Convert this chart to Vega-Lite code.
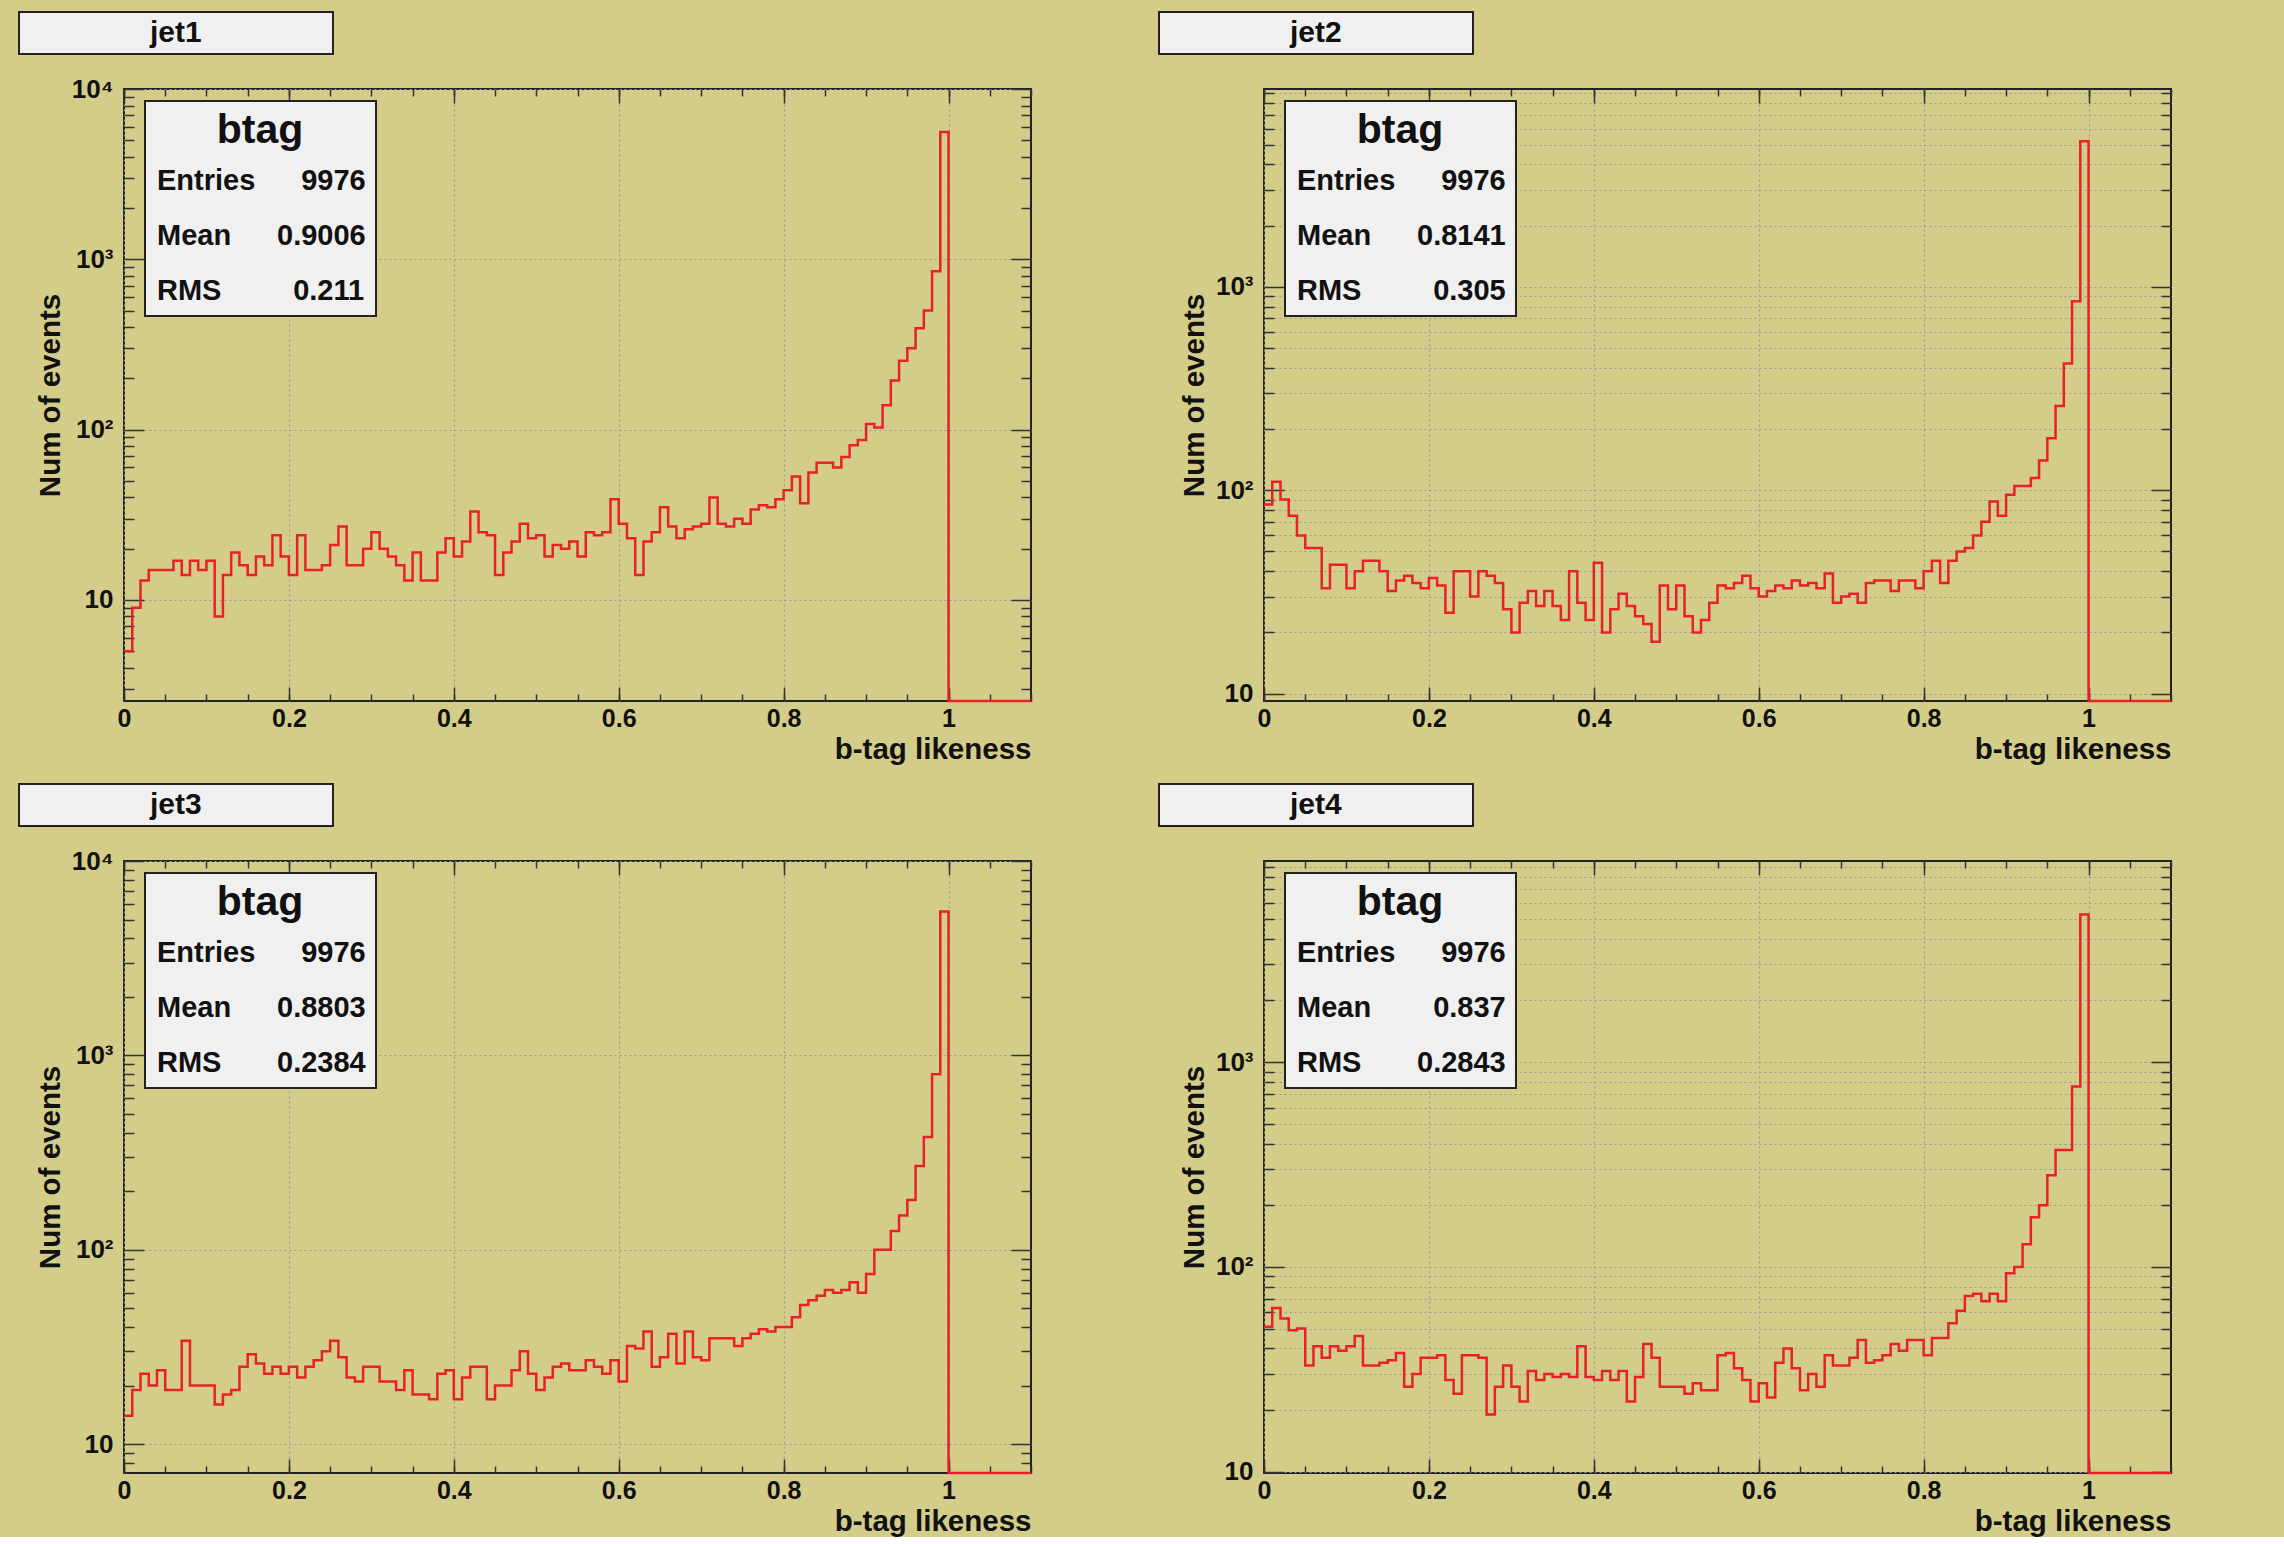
{
  "$schema": "https://vega.github.io/schema/vega-lite/v6.json",
  "background": "#d4cd89",
  "padding": {"left": 17, "top": 10, "right": 107, "bottom": 0},
  "columns": 2,
  "spacing": {"row": 17, "column": 120},
  "datasets": {
    "jet1": [
      {"x":0,"n":5},{"x":0.01,"n":9},{"x":0.02,"n":13},{"x":0.03,"n":15},{"x":0.04,"n":15},{"x":0.05,"n":15},{"x":0.06,"n":17},{"x":0.07,"n":14},{"x":0.08,"n":17},{"x":0.09,"n":15},
      {"x":0.1,"n":17},{"x":0.11,"n":8},{"x":0.12,"n":14},{"x":0.13,"n":19},{"x":0.14,"n":16},{"x":0.15,"n":14},{"x":0.16,"n":18},{"x":0.17,"n":16},{"x":0.18,"n":24},{"x":0.19,"n":18},
      {"x":0.2,"n":14},{"x":0.21,"n":24},{"x":0.22,"n":15},{"x":0.23,"n":15},{"x":0.24,"n":16},{"x":0.25,"n":21},{"x":0.26,"n":27},{"x":0.27,"n":16},{"x":0.28,"n":16},{"x":0.29,"n":20},
      {"x":0.3,"n":25},{"x":0.31,"n":20},{"x":0.32,"n":18},{"x":0.33,"n":16},{"x":0.34,"n":13},{"x":0.35,"n":19},{"x":0.36,"n":13},{"x":0.37,"n":13},{"x":0.38,"n":19},{"x":0.39,"n":23},
      {"x":0.4,"n":18},{"x":0.41,"n":22},{"x":0.42,"n":33},{"x":0.43,"n":25},{"x":0.44,"n":24},{"x":0.45,"n":14},{"x":0.46,"n":19},{"x":0.47,"n":22},{"x":0.48,"n":28},{"x":0.49,"n":23},
      {"x":0.5,"n":24},{"x":0.51,"n":18},{"x":0.52,"n":21},{"x":0.53,"n":20},{"x":0.54,"n":22},{"x":0.55,"n":18},{"x":0.56,"n":25},{"x":0.57,"n":24},{"x":0.58,"n":25},{"x":0.59,"n":39},
      {"x":0.6,"n":28},{"x":0.61,"n":23},{"x":0.62,"n":14},{"x":0.63,"n":22},{"x":0.64,"n":25},{"x":0.65,"n":35},{"x":0.66,"n":27},{"x":0.67,"n":23},{"x":0.68,"n":26},{"x":0.69,"n":27},
      {"x":0.7,"n":28},{"x":0.71,"n":40},{"x":0.72,"n":28},{"x":0.73,"n":27},{"x":0.74,"n":30},{"x":0.75,"n":28},{"x":0.76,"n":34},{"x":0.77,"n":36},{"x":0.78,"n":35},{"x":0.79,"n":39},
      {"x":0.8,"n":44},{"x":0.81,"n":53},{"x":0.82,"n":37},{"x":0.83,"n":56},{"x":0.84,"n":64},{"x":0.85,"n":64},{"x":0.86,"n":60},{"x":0.87,"n":69},{"x":0.88,"n":81},{"x":0.89,"n":87},
      {"x":0.9,"n":108},{"x":0.91,"n":103},{"x":0.92,"n":139},{"x":0.93,"n":194},{"x":0.94,"n":254},{"x":0.95,"n":300},{"x":0.96,"n":394},{"x":0.97,"n":500},{"x":0.98,"n":850},{"x":0.99,"n":5600},
      {"x":1,"n":0},{"x":1.01,"n":0},{"x":1.02,"n":0},{"x":1.03,"n":0},{"x":1.04,"n":0},{"x":1.05,"n":0},{"x":1.06,"n":0},{"x":1.07,"n":0},{"x":1.08,"n":0},{"x":1.09,"n":0},{"x":1.1,"n":0}
    ],
    "jet2": [
      {"x":0,"n":85},{"x":0.01,"n":110},{"x":0.02,"n":90},{"x":0.03,"n":75},{"x":0.04,"n":60},{"x":0.05,"n":52},{"x":0.06,"n":52},{"x":0.07,"n":33},{"x":0.08,"n":43},{"x":0.09,"n":43},
      {"x":0.1,"n":33},{"x":0.11,"n":40},{"x":0.12,"n":45},{"x":0.13,"n":45},{"x":0.14,"n":40},{"x":0.15,"n":32},{"x":0.16,"n":36},{"x":0.17,"n":38},{"x":0.18,"n":35},{"x":0.19,"n":33},
      {"x":0.2,"n":37},{"x":0.21,"n":34},{"x":0.22,"n":25},{"x":0.23,"n":40},{"x":0.24,"n":40},{"x":0.25,"n":30},{"x":0.26,"n":40},{"x":0.27,"n":38},{"x":0.28,"n":35},{"x":0.29,"n":26},
      {"x":0.3,"n":20},{"x":0.31,"n":28},{"x":0.32,"n":32},{"x":0.33,"n":27},{"x":0.34,"n":32},{"x":0.35,"n":27},{"x":0.36,"n":23},{"x":0.37,"n":40},{"x":0.38,"n":28},{"x":0.39,"n":23},
      {"x":0.4,"n":44},{"x":0.41,"n":20},{"x":0.42,"n":26},{"x":0.43,"n":31},{"x":0.44,"n":27},{"x":0.45,"n":24},{"x":0.46,"n":22},{"x":0.47,"n":18},{"x":0.48,"n":34},{"x":0.49,"n":26},
      {"x":0.5,"n":34},{"x":0.51,"n":24},{"x":0.52,"n":20},{"x":0.53,"n":23},{"x":0.54,"n":28},{"x":0.55,"n":34},{"x":0.56,"n":33},{"x":0.57,"n":35},{"x":0.58,"n":38},{"x":0.59,"n":33},
      {"x":0.6,"n":30},{"x":0.61,"n":32},{"x":0.62,"n":34},{"x":0.63,"n":33},{"x":0.64,"n":36},{"x":0.65,"n":34},{"x":0.66,"n":35},{"x":0.67,"n":33},{"x":0.68,"n":39},{"x":0.69,"n":28},
      {"x":0.7,"n":30},{"x":0.71,"n":31},{"x":0.72,"n":28},{"x":0.73,"n":35},{"x":0.74,"n":36},{"x":0.75,"n":36},{"x":0.76,"n":32},{"x":0.77,"n":36},{"x":0.78,"n":36},{"x":0.79,"n":33},
      {"x":0.8,"n":40},{"x":0.81,"n":45},{"x":0.82,"n":35},{"x":0.83,"n":45},{"x":0.84,"n":50},{"x":0.85,"n":52},{"x":0.86,"n":60},{"x":0.87,"n":70},{"x":0.88,"n":88},{"x":0.89,"n":75},
      {"x":0.9,"n":95},{"x":0.91,"n":105},{"x":0.92,"n":105},{"x":0.93,"n":115},{"x":0.94,"n":140},{"x":0.95,"n":180},{"x":0.96,"n":260},{"x":0.97,"n":420},{"x":0.98,"n":850},{"x":0.99,"n":5200},
      {"x":1,"n":0},{"x":1.01,"n":0},{"x":1.02,"n":0},{"x":1.03,"n":0},{"x":1.04,"n":0},{"x":1.05,"n":0},{"x":1.06,"n":0},{"x":1.07,"n":0},{"x":1.08,"n":0},{"x":1.09,"n":0},{"x":1.1,"n":0}
    ],
    "jet3": [
      {"x":0,"n":14},{"x":0.01,"n":19},{"x":0.02,"n":23},{"x":0.03,"n":20},{"x":0.04,"n":24},{"x":0.05,"n":19},{"x":0.06,"n":19},{"x":0.07,"n":34},{"x":0.08,"n":20},{"x":0.09,"n":20},
      {"x":0.1,"n":20},{"x":0.11,"n":16},{"x":0.12,"n":18},{"x":0.13,"n":19},{"x":0.14,"n":25},{"x":0.15,"n":29},{"x":0.16,"n":26},{"x":0.17,"n":23},{"x":0.18,"n":25},{"x":0.19,"n":23},
      {"x":0.2,"n":25},{"x":0.21,"n":22},{"x":0.22,"n":25},{"x":0.23,"n":27},{"x":0.24,"n":30},{"x":0.25,"n":34},{"x":0.26,"n":28},{"x":0.27,"n":22},{"x":0.28,"n":21},{"x":0.29,"n":25},
      {"x":0.3,"n":25},{"x":0.31,"n":21},{"x":0.32,"n":21},{"x":0.33,"n":19},{"x":0.34,"n":24},{"x":0.35,"n":18},{"x":0.36,"n":18},{"x":0.37,"n":17},{"x":0.38,"n":23},{"x":0.39,"n":24},
      {"x":0.4,"n":17},{"x":0.41,"n":22},{"x":0.42,"n":25},{"x":0.43,"n":25},{"x":0.44,"n":17},{"x":0.45,"n":20},{"x":0.46,"n":20},{"x":0.47,"n":24},{"x":0.48,"n":30},{"x":0.49,"n":23},
      {"x":0.5,"n":19},{"x":0.51,"n":22},{"x":0.52,"n":25},{"x":0.53,"n":26},{"x":0.54,"n":24},{"x":0.55,"n":24},{"x":0.56,"n":27},{"x":0.57,"n":25},{"x":0.58,"n":23},{"x":0.59,"n":27},
      {"x":0.6,"n":21},{"x":0.61,"n":32},{"x":0.62,"n":31},{"x":0.63,"n":38},{"x":0.64,"n":25},{"x":0.65,"n":28},{"x":0.66,"n":37},{"x":0.67,"n":26},{"x":0.68,"n":38},{"x":0.69,"n":28},
      {"x":0.7,"n":27},{"x":0.71,"n":35},{"x":0.72,"n":35},{"x":0.73,"n":35},{"x":0.74,"n":32},{"x":0.75,"n":35},{"x":0.76,"n":37},{"x":0.77,"n":39},{"x":0.78,"n":38},{"x":0.79,"n":40},
      {"x":0.8,"n":40},{"x":0.81,"n":45},{"x":0.82,"n":52},{"x":0.83,"n":55},{"x":0.84,"n":58},{"x":0.85,"n":62},{"x":0.86,"n":60},{"x":0.87,"n":62},{"x":0.88,"n":68},{"x":0.89,"n":60},
      {"x":0.9,"n":75},{"x":0.91,"n":100},{"x":0.92,"n":100},{"x":0.93,"n":125},{"x":0.94,"n":150},{"x":0.95,"n":180},{"x":0.96,"n":270},{"x":0.97,"n":380},{"x":0.98,"n":800},{"x":0.99,"n":5500},
      {"x":1,"n":0},{"x":1.01,"n":0},{"x":1.02,"n":0},{"x":1.03,"n":0},{"x":1.04,"n":0},{"x":1.05,"n":0},{"x":1.06,"n":0},{"x":1.07,"n":0},{"x":1.08,"n":0},{"x":1.09,"n":0},{"x":1.1,"n":0}
    ],
    "jet4": [
      {"x":0,"n":51},{"x":0.01,"n":63},{"x":0.02,"n":56},{"x":0.03,"n":49},{"x":0.04,"n":50},{"x":0.05,"n":33},{"x":0.06,"n":41},{"x":0.07,"n":36},{"x":0.08,"n":41},{"x":0.09,"n":39},
      {"x":0.1,"n":41},{"x":0.11,"n":46},{"x":0.12,"n":33},{"x":0.13,"n":33},{"x":0.14,"n":34},{"x":0.15,"n":35},{"x":0.16,"n":38},{"x":0.17,"n":26},{"x":0.18,"n":30},{"x":0.19,"n":36},
      {"x":0.2,"n":36},{"x":0.21,"n":37},{"x":0.22,"n":28},{"x":0.23,"n":24},{"x":0.24,"n":37},{"x":0.25,"n":37},{"x":0.26,"n":36},{"x":0.27,"n":19},{"x":0.28,"n":26},{"x":0.29,"n":33},
      {"x":0.3,"n":26},{"x":0.31,"n":22},{"x":0.32,"n":31},{"x":0.33,"n":28},{"x":0.34,"n":30},{"x":0.35,"n":29},{"x":0.36,"n":30},{"x":0.37,"n":29},{"x":0.38,"n":41},{"x":0.39,"n":29},
      {"x":0.4,"n":28},{"x":0.41,"n":31},{"x":0.42,"n":28},{"x":0.43,"n":31},{"x":0.44,"n":22},{"x":0.45,"n":29},{"x":0.46,"n":42},{"x":0.47,"n":36},{"x":0.48,"n":26},{"x":0.49,"n":26},
      {"x":0.5,"n":26},{"x":0.51,"n":24},{"x":0.52,"n":27},{"x":0.53,"n":25},{"x":0.54,"n":25},{"x":0.55,"n":37},{"x":0.56,"n":38},{"x":0.57,"n":32},{"x":0.58,"n":28},{"x":0.59,"n":22},
      {"x":0.6,"n":27},{"x":0.61,"n":23},{"x":0.62,"n":34},{"x":0.63,"n":40},{"x":0.64,"n":32},{"x":0.65,"n":25},{"x":0.66,"n":30},{"x":0.67,"n":26},{"x":0.68,"n":37},{"x":0.69,"n":33},
      {"x":0.7,"n":33},{"x":0.71,"n":36},{"x":0.72,"n":44},{"x":0.73,"n":34},{"x":0.74,"n":35},{"x":0.75,"n":37},{"x":0.76,"n":42},{"x":0.77,"n":39},{"x":0.78,"n":44},{"x":0.79,"n":44},
      {"x":0.8,"n":37},{"x":0.81,"n":45},{"x":0.82,"n":45},{"x":0.83,"n":53},{"x":0.84,"n":61},{"x":0.85,"n":72},{"x":0.86,"n":74},{"x":0.87,"n":68},{"x":0.88,"n":74},{"x":0.89,"n":68},
      {"x":0.9,"n":93},{"x":0.91,"n":100},{"x":0.92,"n":129},{"x":0.93,"n":175},{"x":0.94,"n":200},{"x":0.95,"n":280},{"x":0.96,"n":372},{"x":0.97,"n":372},{"x":0.98,"n":760},{"x":0.99,"n":5260},
      {"x":1,"n":0},{"x":1.01,"n":0},{"x":1.02,"n":0},{"x":1.03,"n":0},{"x":1.04,"n":0},{"x":1.05,"n":0},{"x":1.06,"n":0},{"x":1.07,"n":0},{"x":1.08,"n":0},{"x":1.09,"n":0},{"x":1.1,"n":0}
    ]
  },
  "concat": [
    {
      "width": 907, "height": 612,
      "data": {"name": "jet1"},
      "layer": [
        {"mark": {"type": "line", "interpolate": "step-after", "color": "#e8202a", "strokeWidth": 2.5},
         "encoding": {
           "x": {"field": "x", "type": "quantitative", "scale": {"domain": [0, 1.1], "nice": false, "zero": false},
                 "axis": {"orient": "bottom", "values": [0, 0.2, 0.4, 0.6, 0.8, 1], "labelExpr": "datum.value == 0 ? '0' : datum.value == 1 ? '1' : format(datum.value, '.1f')", "grid": true, "tickSize": -14, "labelPadding": 19, "title": "b-tag likeness", "titleAnchor": "end", "titlePadding": 4}},
           "y": {"field": "n", "type": "quantitative", "scale": {"type": "log", "domain": [2.55, 10000], "nice": false, "clamp": true},
                 "axis": {"orient": "left", "values": [10, 100, 1000, 10000], "labelExpr": "datum.value == 10 ? '10' : datum.value == 100 ? '10²' : datum.value == 1000 ? '10³' : '10⁴'", "grid": true, "tickSize": -20, "labelPadding": 31, "labelFontSize": 26, "title": "Num of events", "titlePadding": 6}}
         }},
        {"mark": {"type": "line", "interpolate": "step-after", "opacity": 0},
         "encoding": {
           "x": {"field": "x", "type": "quantitative", "scale": {"domain": [0, 1.1], "nice": false, "zero": false},
                 "axis": {"orient": "bottom", "values": [0,0.05,0.1,0.15,0.2,0.25,0.3,0.35,0.4,0.45,0.5,0.55,0.6,0.65,0.7,0.75,0.8,0.85,0.9,0.95,1,1.05,1.1], "labels": false, "grid": false, "tickSize": -7, "title": null}},
           "y": {"field": "n", "type": "quantitative", "scale": {"type": "log", "domain": [2.55, 10000], "nice": false, "clamp": true},
                 "axis": {"orient": "left", "values": [3,4,5,6,7,8,9,20,30,40,50,60,70,80,90,200,300,400,500,600,700,800,900,2000,3000,4000,5000,6000,7000,8000,9000], "labels": false, "grid": false, "tickSize": -10, "title": null}}
         }},
        {"mark": {"type": "line", "interpolate": "step-after", "opacity": 0},
         "encoding": {
           "x": {"field": "x", "type": "quantitative", "scale": {"domain": [0, 1.1], "nice": false, "zero": false},
                 "axis": {"orient": "top", "values": [0, 0.2, 0.4, 0.6, 0.8, 1], "labels": false, "grid": false, "tickSize": -14, "title": null}},
           "y": {"field": "n", "type": "quantitative", "scale": {"type": "log", "domain": [2.55, 10000], "nice": false, "clamp": true},
                 "axis": {"orient": "right", "values": [10, 100, 1000, 10000], "labels": false, "grid": false, "tickSize": -20, "title": null}}
         }},
        {"mark": {"type": "line", "interpolate": "step-after", "opacity": 0},
         "encoding": {
           "x": {"field": "x", "type": "quantitative", "scale": {"domain": [0, 1.1], "nice": false, "zero": false},
                 "axis": {"orient": "top", "values": [0,0.05,0.1,0.15,0.2,0.25,0.3,0.35,0.4,0.45,0.5,0.55,0.6,0.65,0.7,0.75,0.8,0.85,0.9,0.95,1,1.05,1.1], "labels": false, "grid": false, "tickSize": -7, "title": null}},
           "y": {"field": "n", "type": "quantitative", "scale": {"type": "log", "domain": [2.55, 10000], "nice": false, "clamp": true},
                 "axis": {"orient": "right", "values": [3,4,5,6,7,8,9,20,30,40,50,60,70,80,90,200,300,400,500,600,700,800,900,2000,3000,4000,5000,6000,7000,8000,9000], "labels": false, "grid": false, "tickSize": -10, "title": null}}
         }},
        {"data": {"values": [{"s": "Entries"}, {"s": "Mean"}, {"s": "RMS"}, {"s": "9976"}, {"s": "0.9006"}, {"s": "0.211"}]},
         "mark": {"type": "point", "opacity": 0},
         "encoding": {"color": {"field": "s", "type": "nominal", "sort": null,
           "legend": {"title": "btag", "orient": "none", "legendX": 21, "legendY": 12, "columns": 2, "padding": 10, "fillColor": "#f0f0f0", "strokeColor": "#222", "titleFontSize": 41, "titleFontWeight": "bold", "titleAnchor": "middle", "titleAlign": "center", "titlePadding": 14, "labelFontSize": 29, "labelFontWeight": "bold", "labelOffset": -27, "columnPadding": 19, "rowPadding": 25, "symbolSize": 0, "symbolOpacity": 0, "symbolStrokeWidth": 0, "labelLimit": 300,
             "labelExpr": "datum.label == '9976' ? '\u2060\u2007\u2008' + datum.label : (length(datum.label) == 5 && indexof(datum.label, '0.') == 0) ? '\u2060\u2007' + datum.label : datum.label"}}}},
        {"data": {"values": [{"t": "jet1"}]},
         "mark": {"type": "point", "opacity": 0},
         "encoding": {"shape": {"field": "t", "type": "nominal",
           "legend": {"title": null, "orient": "none", "legendX": -105, "legendY": -77, "padding": 6, "fillColor": "#f0f0f0", "strokeColor": "#222", "labelFontSize": 30, "labelFontWeight": "bold", "labelOffset": -30, "symbolSize": 0, "symbolOpacity": 0, "symbolStrokeWidth": 0, "labelLimit": 600,
             "labelExpr": "'\u2060' + pad(datum.label, 34, '\u00a0', 'center') + '\u2060'"}}}}
      ],
      "resolve": {"axis": {"x": "independent", "y": "independent"}}
    },
    {
      "width": 907, "height": 612,
      "data": {"name": "jet2"},
      "layer": [
        {"mark": {"type": "line", "interpolate": "step-after", "color": "#e8202a", "strokeWidth": 2.5},
         "encoding": {
           "x": {"field": "x", "type": "quantitative", "scale": {"domain": [0, 1.1], "nice": false, "zero": false},
                 "axis": {"orient": "bottom", "values": [0, 0.2, 0.4, 0.6, 0.8, 1], "labelExpr": "datum.value == 0 ? '0' : datum.value == 1 ? '1' : format(datum.value, '.1f')", "grid": true, "tickSize": -14, "labelPadding": 19, "title": "b-tag likeness", "titleAnchor": "end", "titlePadding": 4}},
           "y": {"field": "n", "type": "quantitative", "scale": {"type": "log", "domain": [9.2, 9400], "nice": false, "clamp": true},
                 "axis": {"orient": "left", "values": [10, 100, 1000], "labelExpr": "datum.value == 10 ? '10' : datum.value == 100 ? '10²' : datum.value == 1000 ? '10³' : '10⁴'", "grid": true, "tickSize": -20, "labelPadding": 31, "labelFontSize": 26, "title": "Num of events", "titlePadding": 6}}
         }},
        {"mark": {"type": "line", "interpolate": "step-after", "opacity": 0},
         "encoding": {
           "x": {"field": "x", "type": "quantitative", "scale": {"domain": [0, 1.1], "nice": false, "zero": false},
                 "axis": {"orient": "bottom", "values": [0,0.05,0.1,0.15,0.2,0.25,0.3,0.35,0.4,0.45,0.5,0.55,0.6,0.65,0.7,0.75,0.8,0.85,0.9,0.95,1,1.05,1.1], "labels": false, "grid": false, "tickSize": -7, "title": null}},
           "y": {"field": "n", "type": "quantitative", "scale": {"type": "log", "domain": [9.2, 9400], "nice": false, "clamp": true},
                 "axis": {"orient": "left", "values": [20,30,40,50,60,70,80,90,200,300,400,500,600,700,800,900,2000,3000,4000,5000,6000,7000,8000,9000], "labels": false, "grid": true, "tickSize": -10, "title": null}}
         }},
        {"mark": {"type": "line", "interpolate": "step-after", "opacity": 0},
         "encoding": {
           "x": {"field": "x", "type": "quantitative", "scale": {"domain": [0, 1.1], "nice": false, "zero": false},
                 "axis": {"orient": "top", "values": [0, 0.2, 0.4, 0.6, 0.8, 1], "labels": false, "grid": false, "tickSize": -14, "title": null}},
           "y": {"field": "n", "type": "quantitative", "scale": {"type": "log", "domain": [9.2, 9400], "nice": false, "clamp": true},
                 "axis": {"orient": "right", "values": [10, 100, 1000], "labels": false, "grid": false, "tickSize": -20, "title": null}}
         }},
        {"mark": {"type": "line", "interpolate": "step-after", "opacity": 0},
         "encoding": {
           "x": {"field": "x", "type": "quantitative", "scale": {"domain": [0, 1.1], "nice": false, "zero": false},
                 "axis": {"orient": "top", "values": [0,0.05,0.1,0.15,0.2,0.25,0.3,0.35,0.4,0.45,0.5,0.55,0.6,0.65,0.7,0.75,0.8,0.85,0.9,0.95,1,1.05,1.1], "labels": false, "grid": false, "tickSize": -7, "title": null}},
           "y": {"field": "n", "type": "quantitative", "scale": {"type": "log", "domain": [9.2, 9400], "nice": false, "clamp": true},
                 "axis": {"orient": "right", "values": [20,30,40,50,60,70,80,90,200,300,400,500,600,700,800,900,2000,3000,4000,5000,6000,7000,8000,9000], "labels": false, "grid": false, "tickSize": -10, "title": null}}
         }},
        {"data": {"values": [{"s": "Entries"}, {"s": "Mean"}, {"s": "RMS"}, {"s": "9976"}, {"s": "0.8141"}, {"s": "0.305"}]},
         "mark": {"type": "point", "opacity": 0},
         "encoding": {"color": {"field": "s", "type": "nominal", "sort": null,
           "legend": {"title": "btag", "orient": "none", "legendX": 21, "legendY": 12, "columns": 2, "padding": 10, "fillColor": "#f0f0f0", "strokeColor": "#222", "titleFontSize": 41, "titleFontWeight": "bold", "titleAnchor": "middle", "titleAlign": "center", "titlePadding": 14, "labelFontSize": 29, "labelFontWeight": "bold", "labelOffset": -27, "columnPadding": 19, "rowPadding": 25, "symbolSize": 0, "symbolOpacity": 0, "symbolStrokeWidth": 0, "labelLimit": 300,
             "labelExpr": "datum.label == '9976' ? '\u2060\u2007\u2008' + datum.label : (length(datum.label) == 5 && indexof(datum.label, '0.') == 0) ? '\u2060\u2007' + datum.label : datum.label"}}}},
        {"data": {"values": [{"t": "jet2"}]},
         "mark": {"type": "point", "opacity": 0},
         "encoding": {"shape": {"field": "t", "type": "nominal",
           "legend": {"title": null, "orient": "none", "legendX": -105, "legendY": -77, "padding": 6, "fillColor": "#f0f0f0", "strokeColor": "#222", "labelFontSize": 30, "labelFontWeight": "bold", "labelOffset": -30, "symbolSize": 0, "symbolOpacity": 0, "symbolStrokeWidth": 0, "labelLimit": 600,
             "labelExpr": "'\u2060' + pad(datum.label, 34, '\u00a0', 'center') + '\u2060'"}}}}
      ],
      "resolve": {"axis": {"x": "independent", "y": "independent"}}
    },
    {
      "width": 907, "height": 612,
      "data": {"name": "jet3"},
      "layer": [
        {"mark": {"type": "line", "interpolate": "step-after", "color": "#e8202a", "strokeWidth": 2.5},
         "encoding": {
           "x": {"field": "x", "type": "quantitative", "scale": {"domain": [0, 1.1], "nice": false, "zero": false},
                 "axis": {"orient": "bottom", "values": [0, 0.2, 0.4, 0.6, 0.8, 1], "labelExpr": "datum.value == 0 ? '0' : datum.value == 1 ? '1' : format(datum.value, '.1f')", "grid": true, "tickSize": -14, "labelPadding": 19, "title": "b-tag likeness", "titleAnchor": "end", "titlePadding": 4}},
           "y": {"field": "n", "type": "quantitative", "scale": {"type": "log", "domain": [7.1, 10000], "nice": false, "clamp": true},
                 "axis": {"orient": "left", "values": [10, 100, 1000, 10000], "labelExpr": "datum.value == 10 ? '10' : datum.value == 100 ? '10²' : datum.value == 1000 ? '10³' : '10⁴'", "grid": true, "tickSize": -20, "labelPadding": 31, "labelFontSize": 26, "title": "Num of events", "titlePadding": 6}}
         }},
        {"mark": {"type": "line", "interpolate": "step-after", "opacity": 0},
         "encoding": {
           "x": {"field": "x", "type": "quantitative", "scale": {"domain": [0, 1.1], "nice": false, "zero": false},
                 "axis": {"orient": "bottom", "values": [0,0.05,0.1,0.15,0.2,0.25,0.3,0.35,0.4,0.45,0.5,0.55,0.6,0.65,0.7,0.75,0.8,0.85,0.9,0.95,1,1.05,1.1], "labels": false, "grid": false, "tickSize": -7, "title": null}},
           "y": {"field": "n", "type": "quantitative", "scale": {"type": "log", "domain": [7.1, 10000], "nice": false, "clamp": true},
                 "axis": {"orient": "left", "values": [8,9,20,30,40,50,60,70,80,90,200,300,400,500,600,700,800,900,2000,3000,4000,5000,6000,7000,8000,9000], "labels": false, "grid": false, "tickSize": -10, "title": null}}
         }},
        {"mark": {"type": "line", "interpolate": "step-after", "opacity": 0},
         "encoding": {
           "x": {"field": "x", "type": "quantitative", "scale": {"domain": [0, 1.1], "nice": false, "zero": false},
                 "axis": {"orient": "top", "values": [0, 0.2, 0.4, 0.6, 0.8, 1], "labels": false, "grid": false, "tickSize": -14, "title": null}},
           "y": {"field": "n", "type": "quantitative", "scale": {"type": "log", "domain": [7.1, 10000], "nice": false, "clamp": true},
                 "axis": {"orient": "right", "values": [10, 100, 1000, 10000], "labels": false, "grid": false, "tickSize": -20, "title": null}}
         }},
        {"mark": {"type": "line", "interpolate": "step-after", "opacity": 0},
         "encoding": {
           "x": {"field": "x", "type": "quantitative", "scale": {"domain": [0, 1.1], "nice": false, "zero": false},
                 "axis": {"orient": "top", "values": [0,0.05,0.1,0.15,0.2,0.25,0.3,0.35,0.4,0.45,0.5,0.55,0.6,0.65,0.7,0.75,0.8,0.85,0.9,0.95,1,1.05,1.1], "labels": false, "grid": false, "tickSize": -7, "title": null}},
           "y": {"field": "n", "type": "quantitative", "scale": {"type": "log", "domain": [7.1, 10000], "nice": false, "clamp": true},
                 "axis": {"orient": "right", "values": [8,9,20,30,40,50,60,70,80,90,200,300,400,500,600,700,800,900,2000,3000,4000,5000,6000,7000,8000,9000], "labels": false, "grid": false, "tickSize": -10, "title": null}}
         }},
        {"data": {"values": [{"s": "Entries"}, {"s": "Mean"}, {"s": "RMS"}, {"s": "9976"}, {"s": "0.8803"}, {"s": "0.2384"}]},
         "mark": {"type": "point", "opacity": 0},
         "encoding": {"color": {"field": "s", "type": "nominal", "sort": null,
           "legend": {"title": "btag", "orient": "none", "legendX": 21, "legendY": 12, "columns": 2, "padding": 10, "fillColor": "#f0f0f0", "strokeColor": "#222", "titleFontSize": 41, "titleFontWeight": "bold", "titleAnchor": "middle", "titleAlign": "center", "titlePadding": 14, "labelFontSize": 29, "labelFontWeight": "bold", "labelOffset": -27, "columnPadding": 19, "rowPadding": 25, "symbolSize": 0, "symbolOpacity": 0, "symbolStrokeWidth": 0, "labelLimit": 300,
             "labelExpr": "datum.label == '9976' ? '\u2060\u2007\u2008' + datum.label : (length(datum.label) == 5 && indexof(datum.label, '0.') == 0) ? '\u2060\u2007' + datum.label : datum.label"}}}},
        {"data": {"values": [{"t": "jet3"}]},
         "mark": {"type": "point", "opacity": 0},
         "encoding": {"shape": {"field": "t", "type": "nominal",
           "legend": {"title": null, "orient": "none", "legendX": -105, "legendY": -77, "padding": 6, "fillColor": "#f0f0f0", "strokeColor": "#222", "labelFontSize": 30, "labelFontWeight": "bold", "labelOffset": -30, "symbolSize": 0, "symbolOpacity": 0, "symbolStrokeWidth": 0, "labelLimit": 600,
             "labelExpr": "'\u2060' + pad(datum.label, 34, '\u00a0', 'center') + '\u2060'"}}}}
      ],
      "resolve": {"axis": {"x": "independent", "y": "independent"}}
    },
    {
      "width": 907, "height": 612,
      "data": {"name": "jet4"},
      "layer": [
        {"mark": {"type": "line", "interpolate": "step-after", "color": "#e8202a", "strokeWidth": 2.5},
         "encoding": {
           "x": {"field": "x", "type": "quantitative", "scale": {"domain": [0, 1.1], "nice": false, "zero": false},
                 "axis": {"orient": "bottom", "values": [0, 0.2, 0.4, 0.6, 0.8, 1], "labelExpr": "datum.value == 0 ? '0' : datum.value == 1 ? '1' : format(datum.value, '.1f')", "grid": true, "tickSize": -14, "labelPadding": 19, "title": "b-tag likeness", "titleAnchor": "end", "titlePadding": 4}},
           "y": {"field": "n", "type": "quantitative", "scale": {"type": "log", "domain": [9.85, 9600], "nice": false, "clamp": true},
                 "axis": {"orient": "left", "values": [10, 100, 1000], "labelExpr": "datum.value == 10 ? '10' : datum.value == 100 ? '10²' : datum.value == 1000 ? '10³' : '10⁴'", "grid": true, "tickSize": -20, "labelPadding": 31, "labelFontSize": 26, "title": "Num of events", "titlePadding": 6}}
         }},
        {"mark": {"type": "line", "interpolate": "step-after", "opacity": 0},
         "encoding": {
           "x": {"field": "x", "type": "quantitative", "scale": {"domain": [0, 1.1], "nice": false, "zero": false},
                 "axis": {"orient": "bottom", "values": [0,0.05,0.1,0.15,0.2,0.25,0.3,0.35,0.4,0.45,0.5,0.55,0.6,0.65,0.7,0.75,0.8,0.85,0.9,0.95,1,1.05,1.1], "labels": false, "grid": false, "tickSize": -7, "title": null}},
           "y": {"field": "n", "type": "quantitative", "scale": {"type": "log", "domain": [9.85, 9600], "nice": false, "clamp": true},
                 "axis": {"orient": "left", "values": [20,30,40,50,60,70,80,90,200,300,400,500,600,700,800,900,2000,3000,4000,5000,6000,7000,8000,9000], "labels": false, "grid": true, "tickSize": -10, "title": null}}
         }},
        {"mark": {"type": "line", "interpolate": "step-after", "opacity": 0},
         "encoding": {
           "x": {"field": "x", "type": "quantitative", "scale": {"domain": [0, 1.1], "nice": false, "zero": false},
                 "axis": {"orient": "top", "values": [0, 0.2, 0.4, 0.6, 0.8, 1], "labels": false, "grid": false, "tickSize": -14, "title": null}},
           "y": {"field": "n", "type": "quantitative", "scale": {"type": "log", "domain": [9.85, 9600], "nice": false, "clamp": true},
                 "axis": {"orient": "right", "values": [10, 100, 1000], "labels": false, "grid": false, "tickSize": -20, "title": null}}
         }},
        {"mark": {"type": "line", "interpolate": "step-after", "opacity": 0},
         "encoding": {
           "x": {"field": "x", "type": "quantitative", "scale": {"domain": [0, 1.1], "nice": false, "zero": false},
                 "axis": {"orient": "top", "values": [0,0.05,0.1,0.15,0.2,0.25,0.3,0.35,0.4,0.45,0.5,0.55,0.6,0.65,0.7,0.75,0.8,0.85,0.9,0.95,1,1.05,1.1], "labels": false, "grid": false, "tickSize": -7, "title": null}},
           "y": {"field": "n", "type": "quantitative", "scale": {"type": "log", "domain": [9.85, 9600], "nice": false, "clamp": true},
                 "axis": {"orient": "right", "values": [20,30,40,50,60,70,80,90,200,300,400,500,600,700,800,900,2000,3000,4000,5000,6000,7000,8000,9000], "labels": false, "grid": false, "tickSize": -10, "title": null}}
         }},
        {"data": {"values": [{"s": "Entries"}, {"s": "Mean"}, {"s": "RMS"}, {"s": "9976"}, {"s": "0.837"}, {"s": "0.2843"}]},
         "mark": {"type": "point", "opacity": 0},
         "encoding": {"color": {"field": "s", "type": "nominal", "sort": null,
           "legend": {"title": "btag", "orient": "none", "legendX": 21, "legendY": 12, "columns": 2, "padding": 10, "fillColor": "#f0f0f0", "strokeColor": "#222", "titleFontSize": 41, "titleFontWeight": "bold", "titleAnchor": "middle", "titleAlign": "center", "titlePadding": 14, "labelFontSize": 29, "labelFontWeight": "bold", "labelOffset": -27, "columnPadding": 19, "rowPadding": 25, "symbolSize": 0, "symbolOpacity": 0, "symbolStrokeWidth": 0, "labelLimit": 300,
             "labelExpr": "datum.label == '9976' ? '\u2060\u2007\u2008' + datum.label : (length(datum.label) == 5 && indexof(datum.label, '0.') == 0) ? '\u2060\u2007' + datum.label : datum.label"}}}},
        {"data": {"values": [{"t": "jet4"}]},
         "mark": {"type": "point", "opacity": 0},
         "encoding": {"shape": {"field": "t", "type": "nominal",
           "legend": {"title": null, "orient": "none", "legendX": -105, "legendY": -77, "padding": 6, "fillColor": "#f0f0f0", "strokeColor": "#222", "labelFontSize": 30, "labelFontWeight": "bold", "labelOffset": -30, "symbolSize": 0, "symbolOpacity": 0, "symbolStrokeWidth": 0, "labelLimit": 600,
             "labelExpr": "'\u2060' + pad(datum.label, 34, '\u00a0', 'center') + '\u2060'"}}}}
      ],
      "resolve": {"axis": {"x": "independent", "y": "independent"}}
    }
  ],
  "resolve": {
    "scale": {"x": "independent", "y": "independent", "color": "independent", "shape": "independent"},
    "axis": {"x": "independent", "y": "independent"},
    "legend": {"color": "independent", "shape": "independent"}
  },
  "config": {
    "font": "Liberation Sans",
    "view": {"fill": "white", "stroke": "#222", "strokeWidth": 2},
    "axis": {"labelFont": "Liberation Sans", "labelFontWeight": "bold", "labelFontSize": 25, "labelColor": "#111", "titleFont": "Liberation Sans", "titleFontWeight": "bold", "titleFontSize": 29.5, "titleColor": "#111", "domain": false, "tickColor": "#333", "tickWidth": 1.5, "gridColor": "#9a9a9a", "gridDash": [2, 3], "gridWidth": 1.2, "labelFlush": false, "labelOverlap": false},
    "legend": {"labelFont": "Liberation Sans", "titleFont": "Liberation Sans", "labelColor": "#111", "titleColor": "#111", "strokeWidth": 2}
  }
}
